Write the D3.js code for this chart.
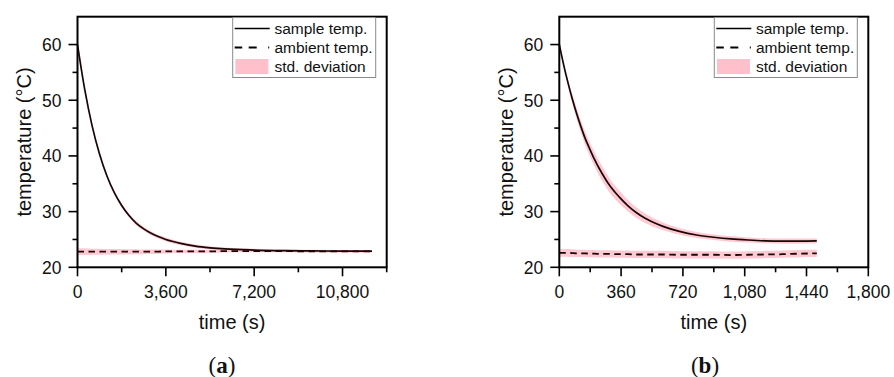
<!DOCTYPE html>
<html>
<head>
<meta charset="utf-8">
<script src="https://cdn.jsdelivr.net/npm/d3@7"></script>
<style>
  body { margin: 0; background: #fff; }
  svg { display: block; }
  .tick-label { font-family: "Liberation Sans", Arial, sans-serif; font-size: 17.5px; fill: #111; }
  .axis-title { font-family: "Liberation Sans", Arial, sans-serif; font-size: 20px; fill: #111; }
  .legend-text { font-family: "Liberation Sans", Arial, sans-serif; font-size: 15.5px; fill: #111; }
  .panel-label { font-family: "Liberation Serif", "DejaVu Serif", serif; font-size: 23px; fill: #111; }
</style>
</head>
<body>
<svg id="chart" width="894" height="377"></svg>
<script>
// panel (a): long run, seconds
const timeA = [0, 300, 600, 900, 1200, 1500, 1800, 2100, 2400, 2700, 3000, 3600, 4200, 4800, 5400, 6000, 7200, 8400, 9600, 10800, 12000];
const sampleA = [60, 51.8, 45.3, 40.3, 36.4, 33.4, 31.1, 29.3, 27.9, 26.9, 26.1, 25.0, 24.3, 23.8, 23.5, 23.3, 23.1, 23.0, 22.95, 22.9, 22.9];
const sampleSdA = [0.1, 0.15, 0.2, 0.2, 0.25, 0.25, 0.3, 0.3, 0.35, 0.35, 0.35, 0.35, 0.3, 0.3, 0.3, 0.25, 0.25, 0.2, 0.2, 0.2, 0.2];
const ambientA = [22.8, 22.8, 22.8, 22.8, 22.8, 22.8, 22.8, 22.8, 22.8, 22.8, 22.8, 22.85, 22.85, 22.85, 22.85, 22.9, 22.9, 22.9, 22.85, 22.85, 22.85];
const ambientSdA = [0.6, 0.6, 0.55, 0.55, 0.5, 0.5, 0.5, 0.45, 0.45, 0.4, 0.4, 0.35, 0.3, 0.3, 0.25, 0.25, 0.2, 0.2, 0.2, 0.2, 0.2];

// panel (b): short run
const timeB = [0, 25, 50, 75, 100, 125, 150, 175, 200, 250, 300, 350, 400, 450, 500, 600, 700, 800, 900, 1000, 1100, 1200, 1300, 1400, 1500];
const sampleB = [60, 56.4, 53.2, 50.3, 47.7, 45.35, 43.2, 41.4, 39.7, 36.8, 34.4, 32.6, 31.05, 29.8, 28.8, 27.4, 26.45, 25.8, 25.4, 25.1, 24.9, 24.75, 24.7, 24.7, 24.75];
const sampleSdB = [0.1, 0.3, 0.5, 0.8, 1.0, 1.1, 1.2, 1.25, 1.3, 1.3, 1.25, 1.15, 1.05, 0.95, 0.85, 0.7, 0.6, 0.55, 0.5, 0.5, 0.45, 0.45, 0.45, 0.45, 0.45];
const ambientB = [22.6, 22.6, 22.6, 22.55, 22.5, 22.5, 22.5, 22.45, 22.45, 22.4, 22.4, 22.35, 22.35, 22.3, 22.3, 22.3, 22.25, 22.25, 22.25, 22.2, 22.25, 22.3, 22.35, 22.45, 22.5];
const ambientSdB = [0.7, 0.7, 0.7, 0.7, 0.65, 0.65, 0.65, 0.65, 0.65, 0.65, 0.65, 0.65, 0.65, 0.65, 0.65, 0.65, 0.65, 0.65, 0.65, 0.65, 0.65, 0.65, 0.65, 0.65, 0.65];

// axis ticks
const xMajorA = [0, 3600, 7200, 10800];
const xMinorA = [1800, 5400, 9000, 12600];
const xMajorB = [0, 360, 720, 1080, 1440, 1800];
const xMinorB = [180, 540, 900, 1260, 1620];
const yMajor = [20, 30, 40, 50, 60];
const yMinor = [25, 35, 45, 55];

const legendLabels = ["sample temp.", "ambient temp.", "std. deviation"];
const yTitle = "temperature (\u00B0C)";
const xTitle = "time (s)";

const svg = d3.select('#chart');
const plotTop = 16.7, plotBottom = 267.3;
const fmt = d3.format(',d');
const bandColor = '#ffc0cb';

function drawPanel(opts) {
    let x = d3.scaleLinear().domain(opts.xDomain).range([opts.left, opts.right]);
    let y = d3.scaleLinear().domain([20, 65]).range([plotBottom, plotTop]);
    let g = svg.append('g');

    let rows = opts.time.map((t, i) => ({
        t: t, s: opts.sample[i], sd: opts.sampleSd[i], a: opts.ambient[i], asd: opts.ambientSd[i]
    }));

    let curve = d3.curveMonotoneX;
    let areaS = d3.area().curve(curve).x(d => x(d.t)).y0(d => y(d.s - d.sd)).y1(d => y(d.s + d.sd));
    let areaA = d3.area().curve(curve).x(d => x(d.t)).y0(d => y(d.a - d.asd)).y1(d => y(d.a + d.asd));

    g.append('path').datum(rows).attr('d', areaA).attr('fill', bandColor).attr('fill-opacity', 0.85);
    g.append('path').datum(rows).attr('d', areaS).attr('fill', bandColor).attr('fill-opacity', 0.85);

    g.append('path').datum(rows)
        .attr('d', d3.line().curve(curve).x(d => x(d.t)).y(d => y(d.a)))
        .attr('fill', 'none').attr('stroke', '#1a0505').attr('stroke-width', 1.8)
        .attr('stroke-dasharray', '6.5,4.5');
    g.append('path').datum(rows)
        .attr('d', d3.line().curve(curve).x(d => x(d.t)).y(d => y(d.s)))
        .attr('fill', 'none').attr('stroke', '#1a0505').attr('stroke-width', 1.7);

    // frame
    g.append('rect')
        .attr('x', opts.left).attr('y', plotTop)
        .attr('width', opts.right - opts.left).attr('height', plotBottom - plotTop)
        .attr('fill', 'none').attr('stroke', '#000').attr('stroke-width', 2);

    // ticks
    let xt = g.append('g');
    xt.selectAll('.maj').data(opts.xMajor).enter().append('line')
        .attr('x1', d => x(d)).attr('x2', d => x(d))
        .attr('y1', plotBottom).attr('y2', plotBottom + 9)
        .attr('stroke', '#000').attr('stroke-width', 1.6);
    xt.selectAll('.min').data(opts.xMinor).enter().append('line')
        .attr('x1', d => x(d)).attr('x2', d => x(d))
        .attr('y1', plotBottom).attr('y2', plotBottom + 5)
        .attr('stroke', '#000').attr('stroke-width', 1.6);
    xt.selectAll('text').data(opts.xMajor).enter().append('text')
        .attr('class', 'tick-label')
        .attr('x', d => x(d)).attr('y', 297.5)
        .attr('text-anchor', 'middle')
        .text(d => fmt(d));

    let yt = g.append('g');
    yt.selectAll('.maj').data(yMajor).enter().append('line')
        .attr('x1', opts.left - 9).attr('x2', opts.left)
        .attr('y1', d => y(d)).attr('y2', d => y(d))
        .attr('stroke', '#000').attr('stroke-width', 1.6);
    yt.selectAll('.min').data(yMinor).enter().append('line')
        .attr('x1', opts.left - 5).attr('x2', opts.left)
        .attr('y1', d => y(d)).attr('y2', d => y(d))
        .attr('stroke', '#000').attr('stroke-width', 1.6);
    yt.selectAll('text').data(yMajor).enter().append('text')
        .attr('class', 'tick-label')
        .attr('x', opts.left - 16).attr('y', d => y(d))
        .attr('dy', '0.36em')
        .attr('text-anchor', 'end')
        .text(d => d);

    // titles
    let cx = (opts.left + opts.right) / 2;
    g.append('text').attr('class', 'axis-title')
        .attr('x', cx).attr('y', 329)
        .attr('text-anchor', 'middle').text(xTitle);
    g.append('text').attr('class', 'axis-title')
        .attr('transform', `translate(${opts.left - 46.5},${(plotTop + plotBottom) / 2}) rotate(-90)`)
        .attr('text-anchor', 'middle').text(yTitle);

    let pl = g.append('text').attr('class', 'panel-label')
        .attr('x', opts.labelX).attr('y', 373)
        .attr('text-anchor', 'middle');
    pl.append('tspan').text('(');
    pl.append('tspan').attr('font-weight', 'bold').text(opts.label);
    pl.append('tspan').text(')');

    // legend
    let lx = opts.right - 11 - 143, ly = 17.5;
    let lg = g.append('g').attr('transform', `translate(${lx},${ly})`);
    lg.append('rect').attr('width', 143).attr('height', 60)
        .attr('fill', '#fff').attr('stroke', '#8a8a8a').attr('stroke-width', 1);
    lg.append('line').attr('x1', 2).attr('x2', 37).attr('y1', 11).attr('y2', 11)
        .attr('stroke', '#000').attr('stroke-width', 1.7);
    lg.append('line').attr('x1', 2).attr('x2', 37).attr('y1', 30).attr('y2', 30)
        .attr('stroke', '#000').attr('stroke-width', 1.8)
        .attr('stroke-dasharray', '7.5,6.5,8,11.5,1');
    lg.append('rect').attr('x', 2.7).attr('y', 41.5).attr('width', 33).attr('height', 15)
        .attr('fill', bandColor);
    lg.selectAll('.lt').data(legendLabels).enter().append('text')
        .attr('class', 'legend-text')
        .attr('x', 41.7).attr('y', (d, i) => [11, 30, 49.4][i])
        .attr('dy', '0.36em')
        .text(d => d);
}

drawPanel({
    left: 77.5, right: 386.7, xDomain: [0, 12600],
    time: timeA, sample: sampleA, sampleSd: sampleSdA, ambient: ambientA, ambientSd: ambientSdA,
    xMajor: xMajorA, xMinor: xMinorA, label: 'a', labelX: 222
});
drawPanel({
    left: 559.3, right: 868.3, xDomain: [0, 1800],
    time: timeB, sample: sampleB, sampleSd: sampleSdB, ambient: ambientB, ambientSd: ambientSdB,
    xMajor: xMajorB, xMinor: xMinorB, label: 'b', labelX: 705
});
</script>
</body>
</html>
